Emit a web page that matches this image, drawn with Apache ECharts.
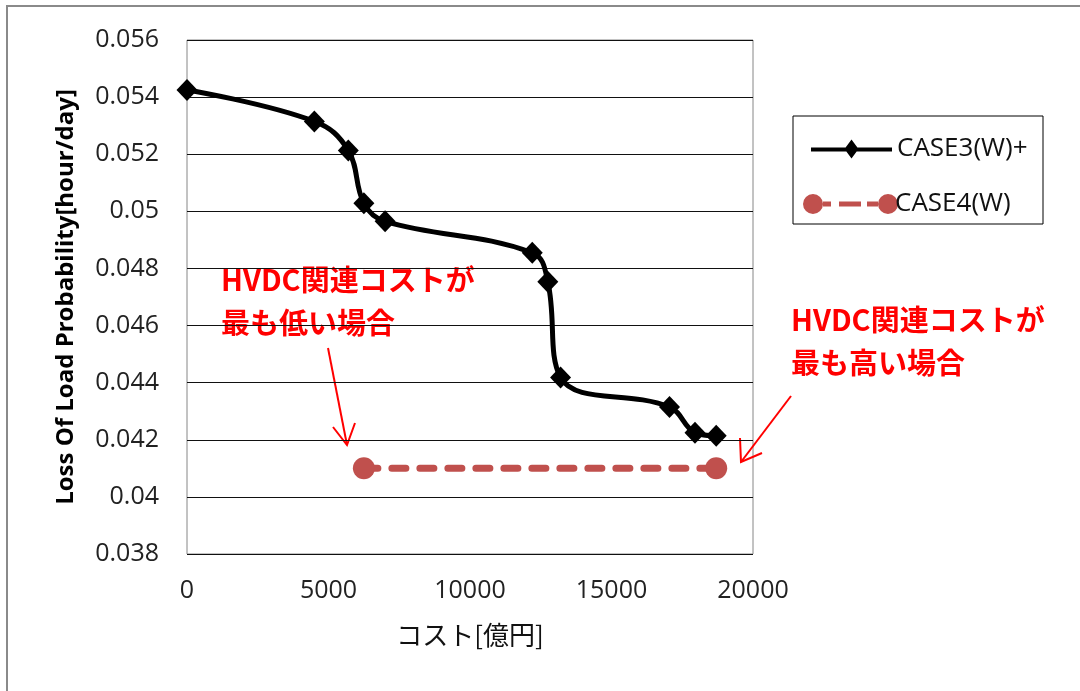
<!DOCTYPE html>
<html>
<head>
<meta charset="utf-8">
<script src="https://cdn.jsdelivr.net/npm/echarts@6/dist/echarts.min.js"></script>
<style>
  html, body { margin: 0; padding: 0; background: #fff; }
  #chart { width: 1080px; height: 691px; }
</style>
</head>
<body>
<div id="chart"></div>
<script>
// Cost [億円] vs. loss of load probability [hour/day]
const case3Cost = [0, 4500, 5700, 6250, 7000, 12200, 12750, 13200, 17050, 17950, 18700];
const case3Lolp = [0.05425, 0.05315, 0.05213, 0.05028, 0.04965, 0.04855, 0.04753, 0.04418, 0.04315, 0.04225, 0.04214];
const case4Cost = [6250, 18700];
const case4Lolp = [0.0410, 0.0410];

const seriesNames = ['CASE3(W)+', 'CASE4(W)'];
const xTitle = 'コスト[億円]';
const yTitle = 'Loss Of Load Probability[hour/day]';
const noteLow = ['HVDC関連コストが', '最も低い場合'];
const noteHigh = ['HVDC関連コストが', '最も高い場合'];

const zip = (xs, ys) => xs.map((x, i) => [x, ys[i]]);

const latin = '"Open Sans", "Noto Sans", sans-serif';
const cjk = '"Noto Sans CJK JP", sans-serif';
const red = '#FF0000';
const case4Color = '#C0504D';

// legend icons: solid line with a diamond; dashed line with two dots
const iconCase3 = 'path://M0,8 L81,8 L81,12 L0,12 Z M40.5,0 L47.5,9.5 L40.5,19 L33.5,9.5 Z';
const iconCase4 = 'path://M1,10 A10,10 0 1,1 21,10 A10,10 0 1,1 1,10 Z ' +
  'M21,7.5 L29,7.5 L29,12.5 L21,12.5 Z M37,7.5 L59,7.5 L59,12.5 L37,12.5 Z ' +
  'M65,7.5 L76,7.5 L76,12.5 L65,12.5 Z M76,10 A10,10 0 1,1 96,10 A10,10 0 1,1 76,10 Z';

const chart = echarts.init(document.getElementById('chart'), null, { renderer: 'canvas' });

function arrow(x1, y1, x2, y2, w1, w2) {
  return [
    { type: 'line', shape: { x1, y1, x2, y2 }, style: { stroke: red, lineWidth: 2 } },
    { type: 'polyline', shape: { points: [w1, [x2, y2], w2] }, style: { stroke: red, lineWidth: 2, fill: null } }
  ];
}

function note(x, y, lines) {
  return lines.map((t, i) => ({
    type: 'text', left: x, top: y + i * 43,
    style: { text: t, fill: red, font: 'bold 29px ' + cjk }
  }));
}

chart.setOption({
  backgroundColor: '#fff',
  animation: false,
  grid: { left: 187, right: 327, top: 40, bottom: 137, show: true, borderColor: '#868686', borderWidth: 1 },
  xAxis: {
    type: 'value', min: 0, max: 20000, interval: 5000,
    name: xTitle, nameLocation: 'middle', nameGap: 68,
    nameTextStyle: { fontFamily: cjk, fontSize: 26, color: '#111' },
    axisLine: { show: false }, axisTick: { show: false },
    splitLine: { show: false },
    axisLabel: { fontFamily: latin, fontSize: 25, color: '#222', margin: 24,
      formatter: v => String(v) }
  },
  yAxis: {
    type: 'value', min: 0.038, max: 0.056, interval: 0.002,
    name: yTitle, nameLocation: 'middle', nameGap: 109, nameRotate: 90,
    nameTextStyle: { fontFamily: latin, fontSize: 24, fontWeight: 'bold', color: '#000' },
    axisLine: { show: false }, axisTick: { show: false },
    splitLine: { show: true, lineStyle: { color: '#111', width: 1 } },
    axisLabel: { fontFamily: latin, fontSize: 25, color: '#222', margin: 28,
      formatter: v => String(+v.toFixed(3)) }
  },
  legend: [
    { data: [seriesNames[0]], left: 806, top: 131, itemWidth: 81, itemHeight: 19, icon: iconCase3,
      itemGap: 0, textStyle: { fontFamily: latin, fontSize: 26, color: '#111' } },
    { data: [seriesNames[1]], left: 798, top: 186, itemWidth: 95, itemHeight: 20, icon: iconCase4,
      itemGap: 0, textStyle: { fontFamily: latin, fontSize: 26, color: '#111', padding: [0, 0, 0, -8] } }
  ],
  graphic: [
    { type: 'rect', shape: { x: 7, y: 6, width: 2000, height: 2000 }, style: { stroke: '#8a8a8a', lineWidth: 2, fill: null }, silent: true, z: -10 },
    { type: 'rect', shape: { x: 793, y: 116, width: 250, height: 108 }, style: { stroke: '#000', lineWidth: 1, fill: null } },
    ...note(221, 265, noteLow),
    ...note(791, 305, noteHigh),
    ...arrow(328, 348, 347, 445, [333, 427], [355, 423]),
    ...arrow(791, 396, 741, 462, [740, 438], [762, 453])
  ],
  series: [
    {
      name: seriesNames[0], type: 'line', data: zip(case3Cost, case3Lolp), smooth: 0.4,
      symbol: 'diamond', symbolSize: [21, 22], showAllSymbol: true,
      itemStyle: { color: '#000' }, lineStyle: { color: '#000', width: 5 }, z: 3
    },
    {
      name: seriesNames[1], type: 'line', data: zip(case4Cost, case4Lolp),
      symbol: 'circle', symbolSize: 22,
      itemStyle: { color: case4Color },
      lineStyle: { color: case4Color, width: 7, type: [14, 14], cap: 'round' }, z: 2
    }
  ]
});
</script>
</body>
</html>
